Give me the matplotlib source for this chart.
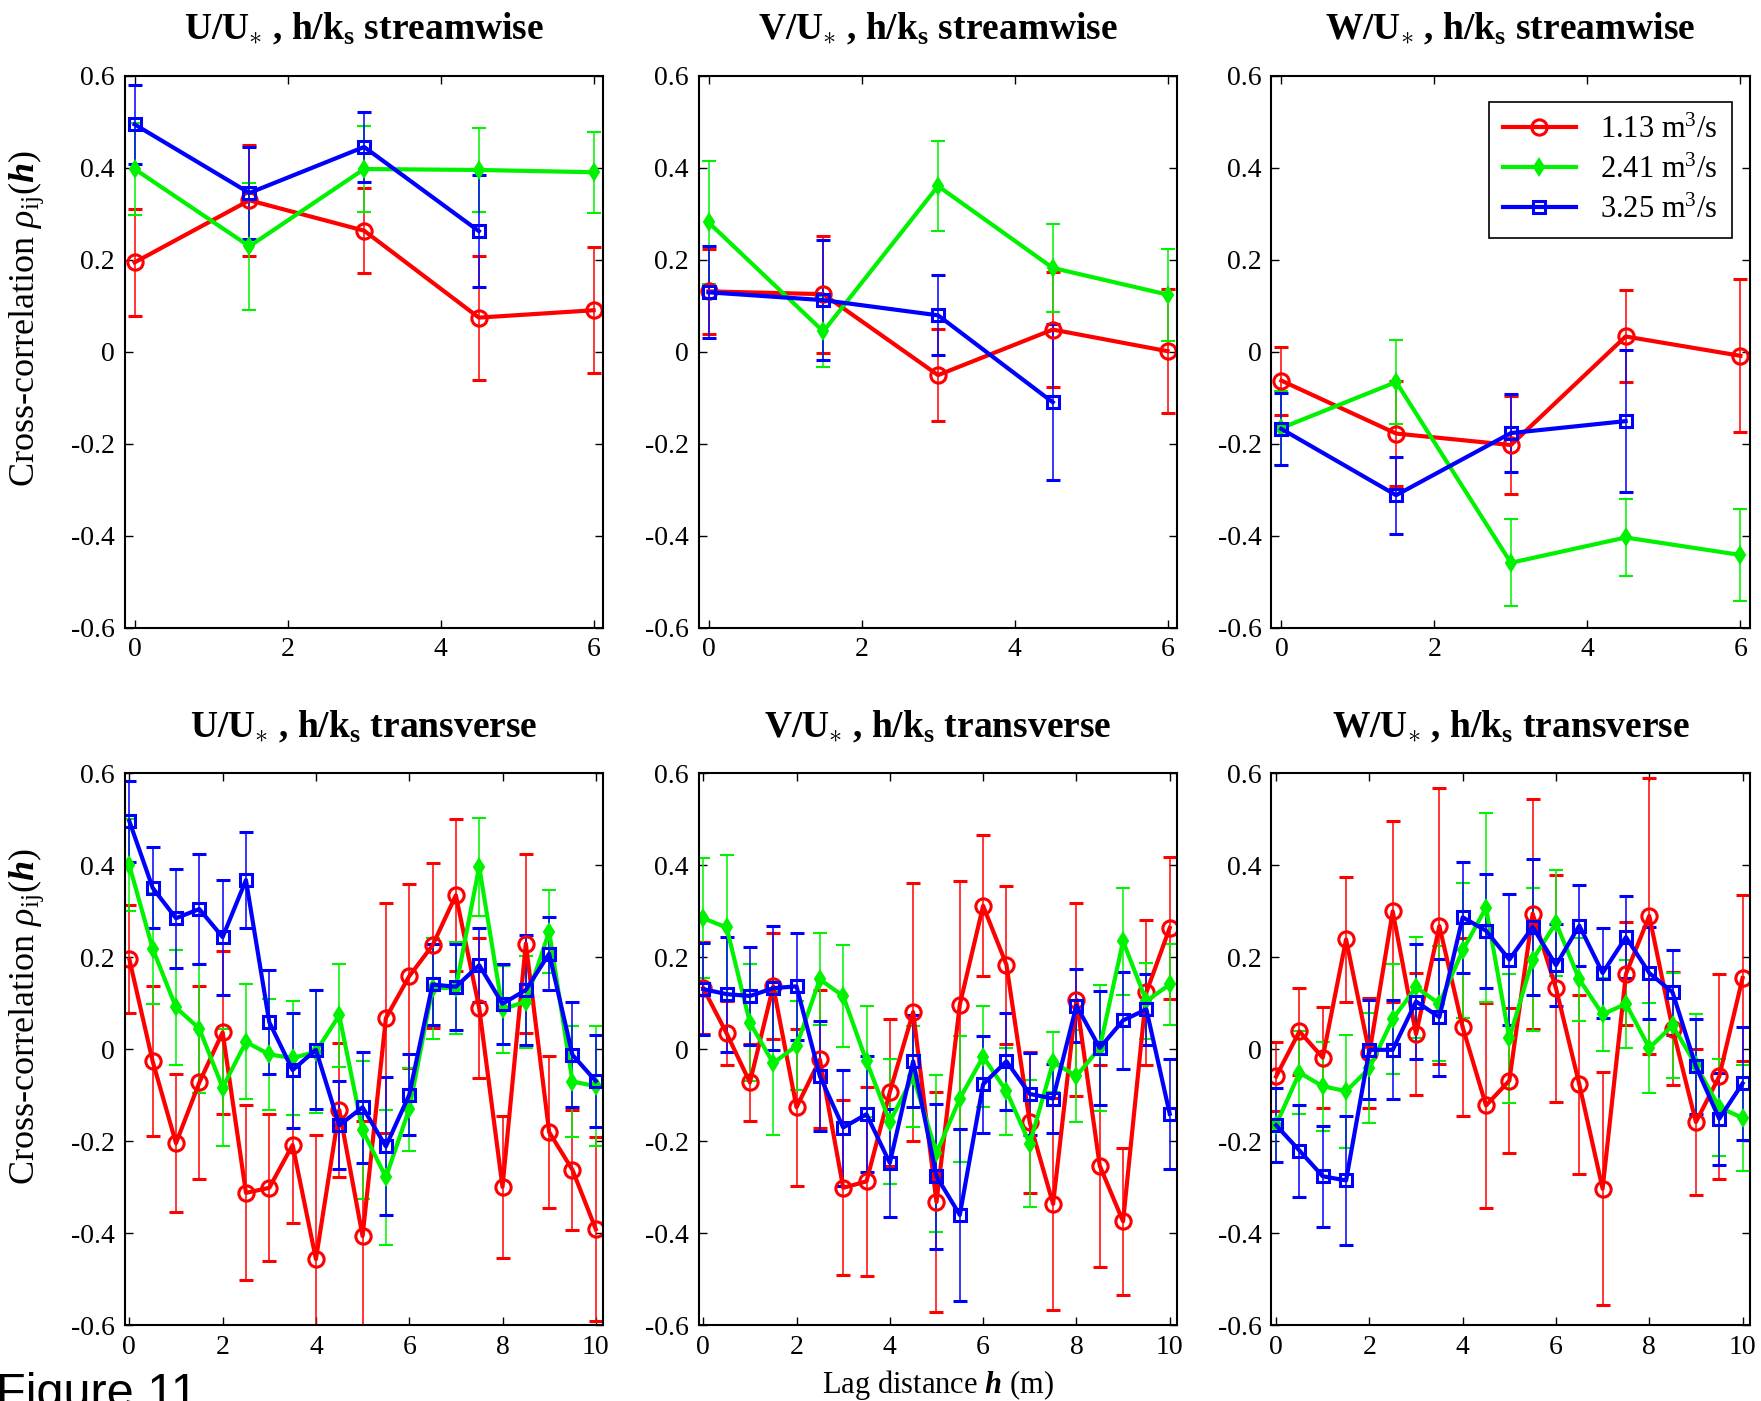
import numpy as np
import matplotlib
matplotlib.use("Agg")
import matplotlib.pyplot as plt
from matplotlib.lines import Line2D

plt.rcParams['font.family'] = ['Liberation Serif', 'DejaVu Serif']
plt.rcParams['mathtext.fontset'] = 'custom'
plt.rcParams['mathtext.rm'] = 'Liberation Serif'
plt.rcParams['mathtext.it'] = 'Liberation Serif:italic'
plt.rcParams['mathtext.bf'] = 'Liberation Serif:bold'
plt.rcParams['mathtext.bfit'] = 'Liberation Serif:italic:bold'

# lag distances (m)
h_stream = [0, 1.5, 3, 4.5, 6]
h_stream_b = [0, 1.5, 3, 4.5]
h_trans = [0, 0.5, 1, 1.5, 2, 2.5, 3, 3.5, 4, 4.5, 5,
           5.5, 6, 6.5, 7, 7.5, 8, 8.5, 9, 9.5, 10]

flows = ["1.13 m$^3$/s", "2.41 m$^3$/s", "3.25 m$^3$/s"]

# streamwise, U
u_s_113 = [0.194, 0.329, 0.263, 0.074, 0.090]
u_s_113_err = [0.117, 0.12, 0.093, 0.135, 0.137]
u_s_241 = [0.397, 0.229, 0.397, 0.395, 0.390]
u_s_241_err = [0.10, 0.138, 0.093, 0.092, 0.088]
u_s_325 = [0.494, 0.345, 0.445, 0.262]
u_s_325_err = [0.085, 0.10, 0.077, 0.121]

# streamwise, V
v_s_113 = [0.131, 0.125, -0.051, 0.048, 0.001]
v_s_113_err = [0.092, 0.127, 0.10, 0.125, 0.135]
v_s_241 = [0.281, 0.044, 0.360, 0.182, 0.124]
v_s_241_err = [0.133, 0.077, 0.097, 0.096, 0.10]
v_s_325 = [0.129, 0.112, 0.079, -0.110]
v_s_325_err = [0.10, 0.13, 0.087, 0.17]

# streamwise, W
w_s_113 = [-0.063, -0.178, -0.203, 0.033, -0.009]
w_s_113_err = [0.074, 0.115, 0.107, 0.10, 0.166]
w_s_241 = [-0.166, -0.066, -0.459, -0.404, -0.442]
w_s_241_err = [0.08, 0.091, 0.095, 0.083, 0.10]
w_s_325 = [-0.168, -0.312, -0.177, -0.151]
w_s_325_err = [0.078, 0.084, 0.085, 0.155]

# transverse, U
u_t_113 = [0.196, -0.026, -0.204, -0.072, 0.037, -0.312, -0.301, -0.208, -0.456, -0.132, -0.406,
           0.068, 0.159, 0.226, 0.335, 0.090, -0.299, 0.230, -0.180, -0.262, -0.391]
u_t_113_err = [0.118, 0.163, 0.15, 0.21, 0.177, 0.19, 0.16, 0.17, 0.27, 0.145, 0.25,
               0.25, 0.2, 0.18, 0.165, 0.153, 0.155, 0.195, 0.165, 0.13, 0.2]
u_t_241 = [0.40, 0.219, 0.091, 0.045, -0.083, 0.016, -0.011, -0.019, -0.005, 0.074, -0.176,
           -0.278, -0.13, 0.133, 0.134, 0.397, 0.087, 0.104, 0.256, -0.07, -0.08]
u_t_241_err = [0.10, 0.12, 0.125, 0.14, 0.128, 0.125, 0.12, 0.124, 0.133, 0.112, 0.15,
               0.147, 0.09, 0.11, 0.10, 0.107, 0.095, 0.10, 0.09, 0.12, 0.13]
u_t_325 = [0.496, 0.351, 0.285, 0.305, 0.244, 0.368, 0.059, -0.045, -0.001, -0.165, -0.126,
           -0.211, -0.099, 0.141, 0.136, 0.183, 0.099, 0.129, 0.208, -0.012, -0.069]
u_t_325_err = [0.088, 0.088, 0.108, 0.12, 0.125, 0.104, 0.113, 0.125, 0.129, 0.096, 0.12,
               0.15, 0.088, 0.088, 0.093, 0.08, 0.087, 0.12, 0.08, 0.114, 0.10]

# transverse, V
v_t_113 = [0.133, 0.035, -0.072, 0.137, -0.126, -0.022, -0.301, -0.287, -0.093, 0.081, -0.332,
           0.097, 0.312, 0.184, -0.159, -0.336, 0.108, -0.253, -0.374, 0.124, 0.264]
v_t_113_err = [0.10, 0.07, 0.083, 0.115, 0.17, 0.15, 0.19, 0.205, 0.16, 0.28, 0.24,
               0.27, 0.153, 0.172, 0.153, 0.23, 0.21, 0.22, 0.16, 0.158, 0.155]
v_t_241 = [0.285, 0.265, 0.058, -0.03, 0.008, 0.152, 0.116, -0.026, -0.157, -0.059, -0.226,
           -0.107, -0.016, -0.091, -0.205, -0.028, -0.058, 0.003, 0.235, 0.105, 0.141]
v_t_241_err = [0.13, 0.157, 0.127, 0.156, 0.097, 0.10, 0.11, 0.12, 0.135, 0.11, 0.17,
               0.137, 0.11, 0.095, 0.138, 0.065, 0.10, 0.137, 0.116, 0.083, 0.087]
v_t_325 = [0.131, 0.12, 0.116, 0.133, 0.137, -0.058, -0.17, -0.141, -0.247, -0.026, -0.276,
           -0.36, -0.076, -0.026, -0.097, -0.107, 0.095, 0.003, 0.063, 0.087, -0.14]
v_t_325_err = [0.10, 0.125, 0.107, 0.135, 0.116, 0.12, 0.126, 0.126, 0.118, 0.1, 0.157,
               0.187, 0.105, 0.106, 0.09, 0.075, 0.08, 0.123, 0.105, 0.077, 0.12]

# transverse, W
w_t_113 = [-0.059, 0.039, -0.018, 0.239, -0.008, 0.30, 0.033, 0.268, 0.048, -0.122, -0.068,
           0.295, 0.133, -0.076, -0.303, 0.164, 0.29, 0.045, -0.158, -0.059, 0.155]
w_t_113_err = [0.075, 0.095, 0.11, 0.136, 0.12, 0.196, 0.133, 0.30, 0.193, 0.223, 0.158,
               0.25, 0.247, 0.194, 0.253, 0.112, 0.30, 0.123, 0.158, 0.222, 0.181]
w_t_241 = [-0.164, -0.051, -0.08, -0.091, -0.041, 0.066, 0.135, 0.099, 0.215, 0.308, 0.024,
           0.195, 0.275, 0.152, 0.076, 0.099, 0.003, 0.052, -0.034, -0.126, -0.149]
w_t_241_err = [0.08, 0.09, 0.097, 0.123, 0.12, 0.12, 0.11, 0.125, 0.146, 0.205, 0.14,
               0.156, 0.115, 0.09, 0.08, 0.095, 0.097, 0.114, 0.11, 0.105, 0.115]
w_t_325 = [-0.165, -0.22, -0.276, -0.285, -0.001, -0.001, 0.104, 0.07, 0.287, 0.258, 0.195,
           0.266, 0.183, 0.269, 0.166, 0.244, 0.166, 0.124, -0.037, -0.151, -0.074]
w_t_325_err = [0.08, 0.10, 0.11, 0.14, 0.108, 0.108, 0.125, 0.127, 0.12, 0.124, 0.143,
               0.147, 0.089, 0.088, 0.097, 0.089, 0.10, 0.092, 0.104, 0.10, 0.122]

yticks = [-0.6, -0.4, -0.2, 0, 0.2, 0.4, 0.6]
ytick_labels = ["-0.6", "-0.4", "-0.2", "0", "0.2", "0.4", "0.6"]

star = "$_{\\mathbf{\\ast}}$"
panels = [
    ("U/U" + star + " , h/k$_\\mathbf{s}$ streamwise", h_stream, h_stream_b,
     [(u_s_113, u_s_113_err), (u_s_241, u_s_241_err), (u_s_325, u_s_325_err)]),
    ("V/U" + star + " , h/k$_\\mathbf{s}$ streamwise", h_stream, h_stream_b,
     [(v_s_113, v_s_113_err), (v_s_241, v_s_241_err), (v_s_325, v_s_325_err)]),
    ("W/U" + star + " , h/k$_\\mathbf{s}$ streamwise", h_stream, h_stream_b,
     [(w_s_113, w_s_113_err), (w_s_241, w_s_241_err), (w_s_325, w_s_325_err)]),
    ("U/U" + star + " , h/k$_\\mathbf{s}$ transverse", h_trans, h_trans,
     [(u_t_113, u_t_113_err), (u_t_241, u_t_241_err), (u_t_325, u_t_325_err)]),
    ("V/U" + star + " , h/k$_\\mathbf{s}$ transverse", h_trans, h_trans,
     [(v_t_113, v_t_113_err), (v_t_241, v_t_241_err), (v_t_325, v_t_325_err)]),
    ("W/U" + star + " , h/k$_\\mathbf{s}$ transverse", h_trans, h_trans,
     [(w_t_113, w_t_113_err), (w_t_241, w_t_241_err), (w_t_325, w_t_325_err)]),
]

colors = [(1, 0, 0), (0, 0.95, 0), (0, 0, 1)]
markers = [dict(marker='o', ms=11, mfc='none', mew=2.2),
           dict(marker='d', ms=8, mew=1.5),
           dict(marker='s', ms=9, mfc='none', mew=2.2)]

fig = plt.figure(figsize=(17.61, 14.01), dpi=100)

lefts = [0.0708, 0.3967, 0.7220]
bottoms = [0.552, 0.054]
w, hgt = 0.2715, 0.394

for k, (title, xa, xb, series) in enumerate(panels):
    row, col = divmod(k, 3)
    ax = fig.add_axes([lefts[col], bottoms[row], w, hgt])
    for j, (vals, err) in enumerate(series):
        x = xb if j == 2 else xa
        ax.errorbar(x, vals, yerr=err, color=colors[j], lw=3, elinewidth=1.1,
                    capsize=5, capthick=1.1, **markers[j])
    ax.set_ylim(-0.6, 0.6)
    if row == 0:
        ax.set_xlim(-0.13, 6.12)
        ax.set_xticks([0, 2, 4, 6])
    else:
        ax.set_xlim(-0.1, 10.15)
        ax.set_xticks([0, 2, 4, 6, 8, 10])
    ax.set_yticks(yticks)
    ax.set_yticklabels(ytick_labels)
    ax.tick_params(direction='in', top=True, right=True, length=6, width=1,
                   labelsize=20, pad=7)
    for s in ax.spines.values():
        s.set_linewidth(1.5)
    ax.set_title(title, fontsize=27, fontweight='bold', pad=26)
    if col == 0:
        ax.set_ylabel("Cross-correlation $\\rho_{\\mathrm{ij}}(\\mathbfit{h})$",
                      fontsize=26)
        ax.yaxis.set_label_coords(-0.165, 0.56)
    if k == 2:
        handles = [Line2D([], [], color=colors[j], lw=3, **markers[j]) for j in range(3)]
        leg = ax.legend(handles, flows, loc='upper right', fontsize=22, fancybox=False,
                        framealpha=1, edgecolor='black', handlelength=2.4,
                        borderpad=0.45, labelspacing=0.35,
                        bbox_to_anchor=(0.995, 0.98))
        leg.get_frame().set_linewidth(1.2)
    if k == 4:
        ax.set_xlabel("Lag distance $\\mathbfit{h}$ (m)", fontsize=22, labelpad=6)

fig.text(-0.002, -0.004, "Figure 11", fontsize=35, family='Liberation Sans',
         va='baseline', ha='left')

plt.savefig("out.png", dpi=100)
